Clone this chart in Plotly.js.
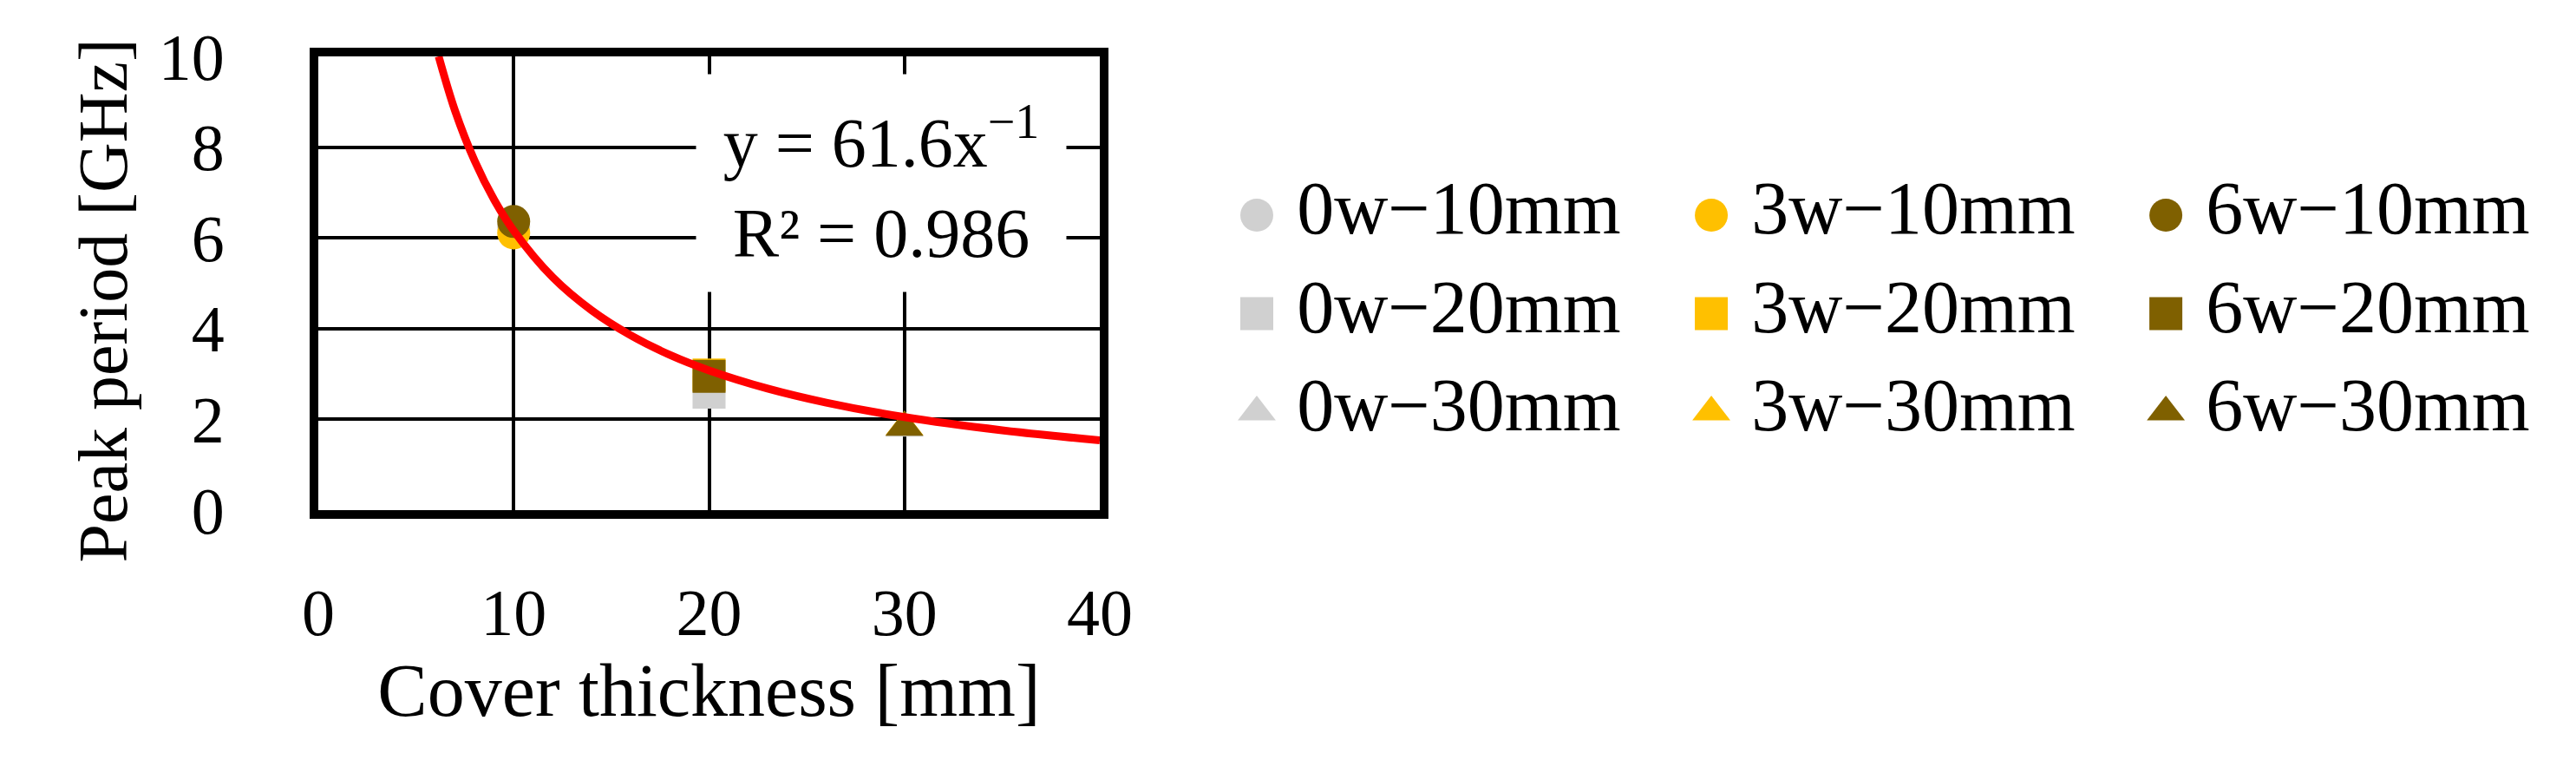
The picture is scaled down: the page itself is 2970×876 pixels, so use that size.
<!DOCTYPE html>
<html>
<head>
<meta charset="utf-8">
<script src="https://cdn.plot.ly/plotly-3.0.1.min.js"></script>
<style>
  html, body { margin: 0; padding: 0; background: #fff; }
  #chart { width: 2970px; height: 876px; }
</style>
</head>
<body>
<div id="chart"></div>
<script>
// measured peak periods per cover thickness, one array per weathering time
const covers = [10, 20, 30];
const weeks = ['0w', '3w', '6w'];
const peak0w = [6.25, 2.6, 1.8];
const peak3w = [6.11, 2.98, 1.83];
const peak6w = [6.36, 2.95, 1.82];
const weekColors = ['#D0D0D0', '#FFC000', '#7F6000'];
const coverSymbols = ['circle', 'square', 'triangle-up'];

// power trendline
const fitX = [6.16, 7, 8, 9, 10, 12, 14, 16, 18, 20, 23, 26, 30, 35, 40];
const fitY = [10, 8.8, 7.7, 6.84, 6.16, 5.13, 4.4, 3.85, 3.42, 3.08, 2.68, 2.37, 2.05, 1.76, 1.54];
const fitLabel = 'y = 61.6x<sup>−1</sup><br>R² = 0.986';

const peaks = [peak0w, peak3w, peak6w];
let data = [];
let keys = [];

covers.forEach((c, ci) => {
    weeks.forEach((w, wi) => {
        let name = `${w}−${c}mm`;
        data.push({
            x: [c],
            y: [peaks[wi][ci]],
            type: 'scatter',
            mode: 'markers',
            name: name,
            marker: { symbol: coverSymbols[ci], size: 38, color: weekColors[wi] },
            showlegend: false
        });
        // legend key drawn on its own small subplot (column = weeks, row = cover)
        keys.push({
            x: [wi],
            y: [ci],
            xaxis: 'x2',
            yaxis: 'y2',
            type: 'scatter',
            mode: 'markers+text',
            text: [' ' + name],
            textposition: 'middle right',
            textfont: { size: 86, color: '#000' },
            cliponaxis: false,
            marker: { symbol: coverSymbols[ci], size: 38, color: weekColors[wi] },
            showlegend: false,
            hoverinfo: 'skip'
        });
    });
});

let trend = {
    x: fitX,
    y: fitY,
    type: 'scatter',
    mode: 'lines',
    line: { color: '#FF0000', width: 9, shape: 'spline' },
    showlegend: false
};

data = data.concat([trend], keys);

let axisCommon = {
    showgrid: true,
    gridcolor: '#000',
    gridwidth: 4,
    showline: true,
    linecolor: '#000',
    linewidth: 10,
    mirror: true,
    zeroline: false,
    ticks: ''
};

let layout = {
    width: 2970,
    height: 876,
    margin: { l: 367, r: 40, t: 65, b: 288 },
    paper_bgcolor: '#fff',
    plot_bgcolor: '#fff',
    font: { family: 'Liberation Serif', size: 76, color: '#000' },
    showlegend: false,
    xaxis: Object.assign({}, axisCommon, {
        domain: [0, 901 / 2563],
        range: [0, 40],
        tick0: 0,
        dtick: 10,
        ticklabelstandoff: 43,
        title: { text: 'Cover thickness [mm]', font: { size: 86 }, standoff: 1 }
    }),
    yaxis: Object.assign({}, axisCommon, {
        range: [0, 10],
        tick0: 0,
        dtick: 2,
        ticklabelstandoff: 83,
        // trailing no-break spaces nudge the rotated title down a little
        title: { text: 'Peak period [GHz]&nbsp;&nbsp;', font: { size: 80 }, standoff: 14 }
    }),
    xaxis2: { domain: [1033 / 2563, 1], range: [-0.0935, 2.826], visible: false, anchor: 'y2' },
    yaxis2: { domain: [0, 1], range: [2.996, -1.612], visible: false, anchor: 'x2' },
    annotations: [{
        xref: 'x', yref: 'y',
        x: 28.81, y: 7.21,
        text: fitLabel,
        showarrow: false,
        bgcolor: '#fff',
        width: 424,
        height: 248,
        font: { size: 80 }
    }]
};

Plotly.newPlot('chart', data, layout, { displayModeBar: false, staticPlot: true });
</script>
</body>
</html>
